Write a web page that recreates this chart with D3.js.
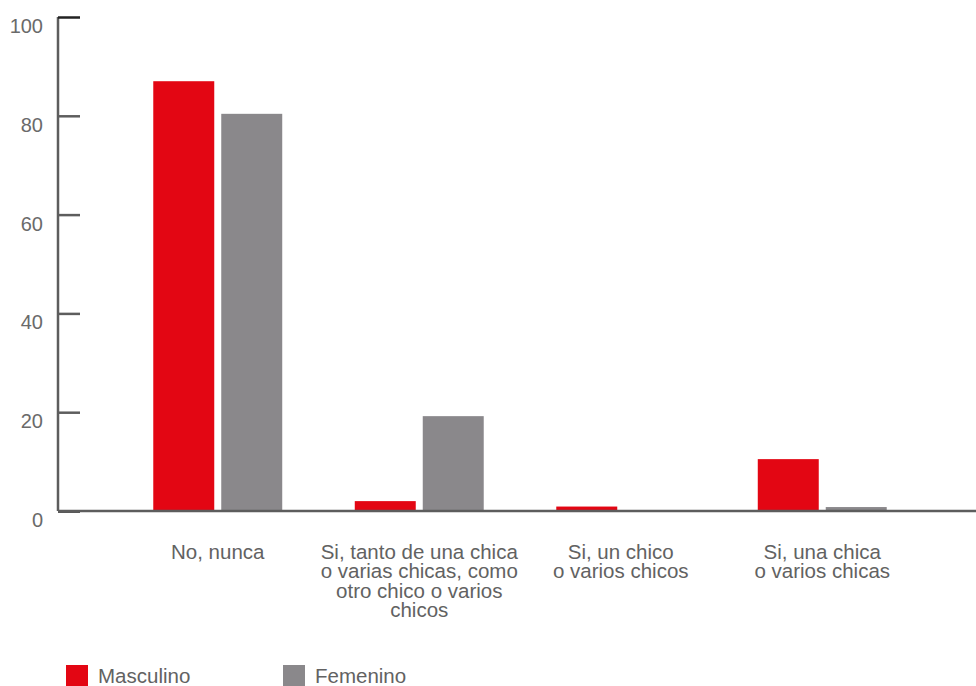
<!DOCTYPE html>
<html><head><meta charset="utf-8">
<script src="https://cdn.jsdelivr.net/npm/d3@7"></script>
<style>
html,body{margin:0;padding:0;background:#fff;}
svg{display:block;font-family:"Liberation Sans",Arial,Helvetica,sans-serif;}
</style></head>
<body>
<svg id="chart" width="976" height="686"></svg>
<script>
const categories = [
  ["No, nunca"],
  ["Si, tanto de una chica","o varias chicas, como","otro chico o varios","chicos"],
  ["Si, un chico","o varios chicos"],
  ["Si, una chica","o varios chicas"]
];
const series = ["Masculino","Femenino"];
const masculino = [87, 2, 0.9, 10.5];
const femenino  = [80.4, 19.2, 0, 0.8];
const yTicks = [0,20,40,60,80,100];

const colors = {"Masculino":"#e30613","Femenino":"#8a888b"};
const svg = d3.select("#chart");
const catKeys = categories.map(c=>c.join(" "));
const values = {"Masculino":masculino,"Femenino":femenino};

const y = d3.scaleLinear().domain([0,100]).range([511,17]);
const x0 = d3.scaleBand().domain(catKeys).range([117,923]).paddingInner(0.36).paddingOuter(0.18);
const x1 = d3.scaleBand().domain(series).range([0,x0.bandwidth()]).paddingInner(7/68);

// bars
catKeys.forEach((k,i)=>{
  series.forEach(s=>{
    const v = values[s][i];
    svg.append("rect")
      .attr("x", x0(k)+x1(s))
      .attr("y", y(v))
      .attr("width", x1.bandwidth())
      .attr("height", y(0)-y(v))
      .attr("fill", colors[s]);
  });
});

// y axis
const yAxis = d3.axisRight(y).tickValues(yTicks).tickSize(22).tickFormat("");
const gy = svg.append("g").attr("transform","translate(58,0)").call(yAxis);
gy.select(".domain").attr("stroke","#5d5d5d").attr("stroke-width",2.5).attr("d","M0,"+y(100)+"V"+y(0));
gy.selectAll(".tick line").attr("stroke","#5d5d5d").attr("stroke-width",2.5);
gy.selectAll(".tick").filter(d=>d===100||d===0).select("line").attr("stroke","#222");
svg.append("g").selectAll("text").data(yTicks).join("text")
  .attr("x",43).attr("y",d=>y(d)+16)
  .attr("text-anchor","end")
  .attr("font-size",20).attr("fill","#6a6a6a")
  .text(d=>d);

// x axis line
svg.append("line").attr("x1",58).attr("x2",976).attr("y1",y(0)).attr("y2",y(0))
  .attr("stroke","#5d5d5d").attr("stroke-width",2.5);

// category labels
categories.forEach((lines,i)=>{
  const cx = x0(catKeys[i]) + x0.bandwidth()/2;
  const t = svg.append("text").attr("text-anchor","middle").attr("font-size",20.5).attr("fill","#626262");
  lines.forEach((ln,j)=>{
    t.append("tspan").attr("x",cx).attr("y",559+j*19.4).text(ln);
  });
});

// legend
const legX = [66,283];
series.forEach((s,i)=>{
  svg.append("rect").attr("x",legX[i]).attr("y",665).attr("width",22).attr("height",21).attr("fill",colors[s]);
  svg.append("text").attr("x",legX[i]+32).attr("y",683).attr("font-size",20.5).attr("fill","#626262").text(s);
});
</script>
</body></html>
